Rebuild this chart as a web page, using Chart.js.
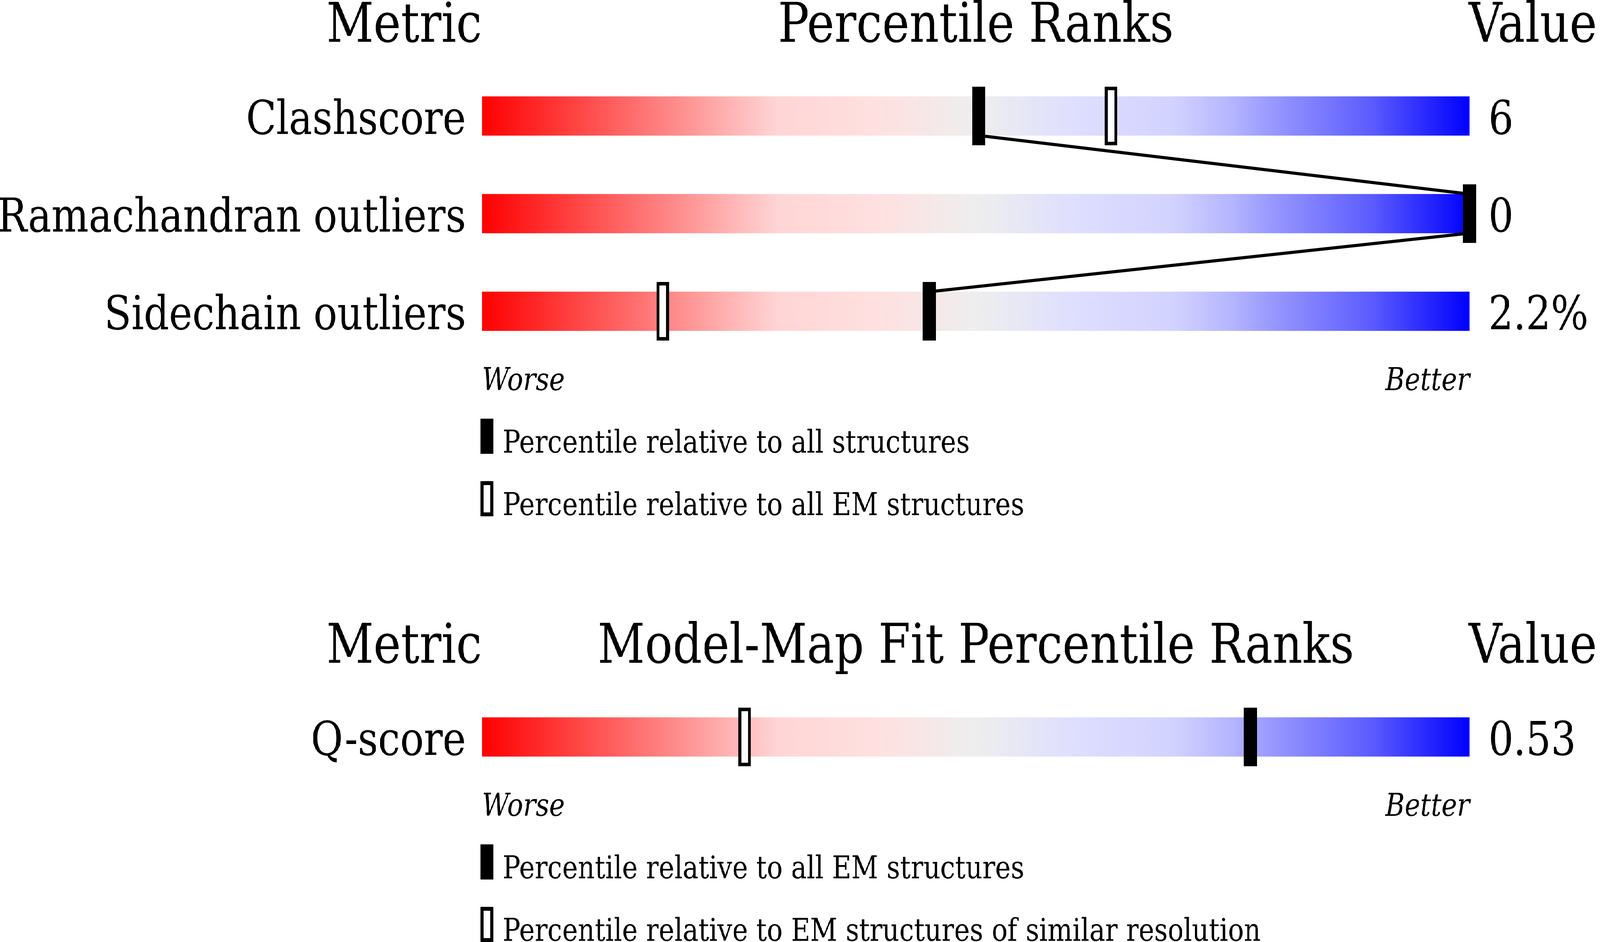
<!DOCTYPE html>
<html><head><meta charset="utf-8">
<script src="https://cdn.jsdelivr.net/npm/chart.js@4.4.1/dist/chart.umd.min.js"></script>
<style>
html,body{margin:0;padding:0;background:#fff;width:100%;height:100%;overflow:hidden;}
#frame{position:relative;overflow:hidden;}
#stage{position:absolute;left:0;top:0;width:4860px;height:2412px;transform-origin:0 0;background:#fff;}
canvas{position:absolute;left:0;}
#c1{top:0}
#c2{top:1480px}
</style></head><body>
<div id="frame"><div id="stage">
<canvas id="c1" width="4860" height="1480"></canvas>
<canvas id="c2" width="4860" height="932"></canvas>
</div></div>
<script>
// ---------- data ----------
const geometryMetrics = ['Clashscore', 'Ramachandran outliers', 'Sidechain outliers'];
const geometryValues = ['6', '0', '2.2%'];
const geometryPctAll = [50.3, 100, 45.3];
const geometryPctEM = [63.7, 100, 18.3];
const fitMetrics = ['Q-score'];
const fitValues = ['0.53'];
const fitPctAllEM = [77.8];
const fitPctSimilarRes = [26.6];
const percentileRange = [0, 100];
const scaleEndLabels = ['Worse', 'Better'];
const headers1 = ['Metric', 'Percentile Ranks', 'Value'];
const headers2 = ['Metric', 'Model-Map Fit Percentile Ranks', 'Value'];
const legend1 = ['Percentile relative to all structures', 'Percentile relative to all EM structures'];
const legend2 = ['Percentile relative to all EM structures', 'Percentile relative to EM structures of similar resolution'];

// ---------- fit the 4860x2412 stage into the actual viewport ----------
(function fitStage() {
  const vw = window.innerWidth || document.documentElement.clientWidth || 4860;
  const vh = window.innerHeight || document.documentElement.clientHeight || 2412;
  const sx = vw / 4860, sy = vh / 2412;
  const frame = document.getElementById('frame');
  frame.style.width = vw + 'px';
  frame.style.height = vh + 'px';
  document.getElementById('stage').style.transform = 'scale(' + sx + ',' + sy + ')';
})();

// ---------- styles ----------
const FONT = '"DejaVu Serif", serif';
const gradStops = [[0,'#ff0000'],[0.25,'#ffb2b2'],[0.3,'#ffd5d5'],[0.4,'#ffe0e0'],[0.5,'#eeeeee'],
  [0.6,'#dedeff'],[0.7,'#d2d2ff'],[0.76,'#b4b4ff'],[0.8,'#9898ff'],[0.9,'#5c5cff'],[1,'#0000ff']];

function makeMarker(w, h, hollow, border) {
  const c = document.createElement('canvas'); c.width = w; c.height = h;
  const g = c.getContext('2d');
  g.fillStyle = '#000'; g.fillRect(0, 0, w, h);
  if (hollow) { g.fillStyle = '#fff'; g.fillRect(border, border, w - 2 * border, h - 2 * border); }
  return c;
}
const filledMark = makeMarker(40, 150, false);
const hollowMark = makeMarker(38, 150, true, 9);
const filledLegend = makeMarker(40, 90, false);
const hollowLegend = makeMarker(40, 90, true, 10);

function barGradient(ctx) {
  const chart = ctx.chart;
  if (!chart.chartArea) return '#eeeeee';
  const xs = chart.scales.x;
  const x0 = xs.getPixelForValue(percentileRange[0]);
  const x1 = xs.getPixelForValue(percentileRange[1]);
  const g = chart.ctx.createLinearGradient(x0, 0, x1, 0);
  gradStops.forEach(([o, c]) => g.addColorStop(o, c));
  return g;
}

const connectorPlugin = {
  id: 'connector',
  afterDatasetDraw(chart, args, opts) {
    if (args.index !== 0 || !opts.values) return;
    const vals = opts.values;
    const bars = chart.getDatasetMeta(0).data;
    const xs = chart.scales.x;
    const ctx = chart.ctx;
    ctx.save();
    ctx.strokeStyle = '#000'; ctx.lineWidth = 8;
    ctx.beginPath();
    for (let i = 0; i < vals.length - 1; i++) {
      const b0 = bars[i], b1 = bars[i + 1];
      ctx.moveTo(xs.getPixelForValue(vals[i]), b0.y + b0.height / 2);
      ctx.lineTo(xs.getPixelForValue(vals[i + 1]), b1.y - b1.height / 2);
    }
    ctx.stroke();
    ctx.restore();
  }
};

const panelTextPlugin = {
  id: 'panelText',
  afterDraw(chart, args, o) {
    const ctx = chart.ctx, a = chart.chartArea;
    ctx.save();
    ctx.fillStyle = '#000'; ctx.textBaseline = 'alphabetic';
    ctx.font = '140px ' + FONT;
    const hy = a.top - 65;
    ctx.textAlign = 'right'; ctx.fillText(o.headers[0], a.left, hy);
    ctx.textAlign = 'center'; ctx.fillText(o.headers[1], (a.left + a.right) / 2, hy);
    ctx.textAlign = 'left'; ctx.fillText(o.headers[2], a.right - 3, hy);
    ctx.font = '80px ' + FONT;
    const marks = [filledLegend, hollowLegend];
    o.legend.forEach((t, i) => {
      const top = a.bottom + 150 + i * 160;
      ctx.drawImage(marks[i], a.left - 5, top);
      ctx.fillText(t, a.left + 63, top + 87);
    });
    ctx.restore();
  }
};

function makeChart(id, metrics, values, pctFilled, pctHollow, headers, legend, topPad, showLines) {
  const canvas = document.getElementById(id);
  const totalH = canvas.height;
  const rowPitch = 250;
  const chartBottom = topPad + metrics.length * rowPitch;
  const pts = arr => arr.map((p, i) => p == null ? null : { x: p, y: metrics[i] }).filter(Boolean);
  return new Chart(canvas, {
    type: 'bar',
    data: {
      labels: metrics,
      datasets: [
        { type: 'bar', indexAxis: 'y', data: metrics.map(() => percentileRange.slice()),
          backgroundColor: barGradient, borderWidth: 0, barThickness: 100, order: 3, xAxisID: 'x', yAxisID: 'y' },
        { type: 'scatter', data: pts(pctHollow), pointStyle: hollowMark, pointRadius: 5,
          clip: false, order: 2, xAxisID: 'x', yAxisID: 'y' },
        { type: 'scatter', data: pts(pctFilled), pointStyle: filledMark, pointRadius: 5,
          clip: false, order: 1, xAxisID: 'x', yAxisID: 'y' }
      ]
    },
    options: {
      responsive: false, maintainAspectRatio: false, devicePixelRatio: 1, animation: false, events: [],
      layout: { padding: { top: topPad, left: 0, right: 0, bottom: 0 } },
      plugins: {
        legend: { display: false }, tooltip: { enabled: false }, title: { display: false },
        connector: { values: showLines ? pctFilled : null },
        panelText: { headers: headers, legend: legend }
      },
      scales: {
        x: {
          type: 'linear', min: percentileRange[0], max: percentileRange[1], offset: false,
          grid: { display: false, drawTicks: false }, border: { display: false },
          afterBuildTicks: s => { s.ticks = percentileRange.map(v => ({ value: v })); },
          ticks: { callback: (v, i) => scaleEndLabels[i], align: 'inner', maxRotation: 0, minRotation: 0,
                   autoSkip: false, padding: 8, color: '#000',
                   font: { family: FONT, size: 80, style: 'italic' } },
          afterFit: s => { s.height = totalH - chartBottom; }
        },
        y: {
          type: 'category', labels: metrics, offset: true, position: 'left',
          grid: { display: false, drawTicks: false }, border: { display: false },
          ticks: { color: '#000', padding: 49, labelOffset: 15, autoSkip: false,
                   font: { family: FONT, size: 119.5 } },
          afterFit: s => { s.width = 1464; }
        },
        yValue: {
          type: 'category', labels: values, offset: true, position: 'right',
          grid: { display: false, drawTicks: false }, border: { display: false },
          ticks: { color: '#000', padding: 57, labelOffset: 15, autoSkip: false,
                   font: { family: FONT, size: 119.5 } },
          afterFit: s => { s.width = 396; }
        }
      }
    },
    plugins: [connectorPlugin, panelTextPlugin]
  });
}

makeChart('c1', geometryMetrics, geometryValues, geometryPctAll, geometryPctEM, headers1, legend1, 172, true);
makeChart('c2', fitMetrics, fitValues, fitPctAllEM, fitPctSimilarRes, headers2, legend2, 282, false);
</script>
</body></html>
